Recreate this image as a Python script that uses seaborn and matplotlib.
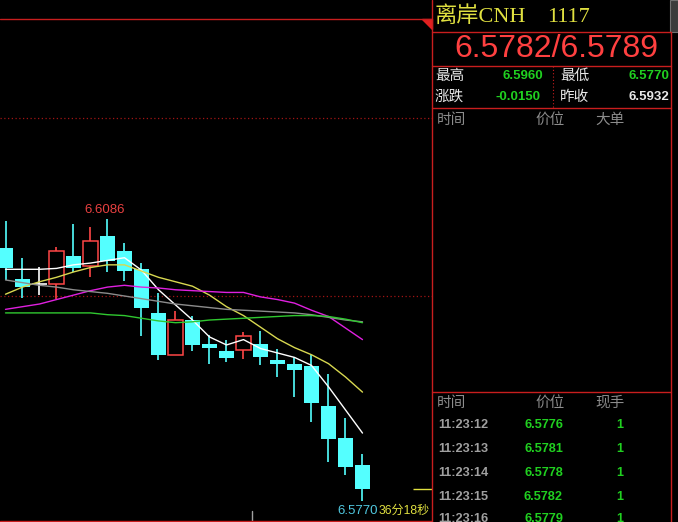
import numpy as np
import pandas as pd
import matplotlib
matplotlib.use('Agg')
import matplotlib.pyplot as plt
import seaborn as sns
from matplotlib.patches import Polygon, Rectangle

# 1-min bars of CNH
opens  = [6.6054, 6.6019, 6.6013, 6.6014, 6.6045, 6.6034, 6.6067, 6.6051, 6.6030, 6.5981, 6.5934,
          6.5973, 6.5946, 6.5938, 6.5939, 6.5946, 6.5928, 6.5924, 6.5921, 6.5876, 6.5841, 6.5810]
closes = [6.6031, 6.6010, 6.6013, 6.6051, 6.6032, 6.6062, 6.6039, 6.6028, 6.5986, 6.5934, 6.5973,
          6.5945, 6.5942, 6.5930, 6.5955, 6.5932, 6.5924, 6.5917, 6.5880, 6.5839, 6.5808, 6.5783]
highs  = [6.6084, 6.6043, 6.6033, 6.6055, 6.6081, 6.6078, 6.6086, 6.6060, 6.6037, 6.6003, 6.5983,
          6.5978, 6.5956, 6.5951, 6.5959, 6.5961, 6.5940, 6.5932, 6.5934, 6.5912, 6.5863, 6.5823]
lows   = [6.6018, 6.5998, 6.6001, 6.5997, 6.6027, 6.6021, 6.6027, 6.6017, 6.5955, 6.5928, 6.5934,
          6.5938, 6.5924, 6.5926, 6.5929, 6.5922, 6.5909, 6.5887, 6.5858, 6.5813, 6.5799, 6.5770]

# moving averages (they start before the visible bars, so read, not computed)
ma5  = [6.6030, 6.6030, 6.6030, 6.6031, 6.6035, 6.6037, 6.6040, 6.6043, 6.6029, 6.6007, 6.5990,
        6.5973, 6.5954, 6.5945, 6.5951, 6.5941, 6.5936, 6.5931, 6.5922, 6.5898, 6.5872, 6.5846]
ma10 = [6.6002, 6.6010, 6.6016, 6.6021, 6.6027, 6.6032, 6.6035, 6.6035, 6.6028, 6.6021, 6.6016,
        6.6011, 6.6001, 6.5988, 6.5978, 6.5965, 6.5952, 6.5942, 6.5934, 6.5924, 6.5909, 6.5892]
ma20 = [6.5985, 6.5988, 6.5991, 6.5996, 6.6001, 6.6006, 6.6010, 6.6012, 6.6010, 6.6009, 6.6007,
        6.6006, 6.6005, 6.6004, 6.6004, 6.5999, 6.5996, 6.5992, 6.5984, 6.5977, 6.5964, 6.5951]
ma30 = [6.6018, 6.6015, 6.6012, 6.6010, 6.6007, 6.6005, 6.6003, 6.6000, 6.5997, 6.5994, 6.5991,
        6.5989, 6.5987, 6.5985, 6.5984, 6.5983, 6.5982, 6.5981, 6.5979, 6.5976, 6.5973, 6.5971]
ma60 = [6.5981, 6.5981, 6.5981, 6.5981, 6.5981, 6.5981, 6.5979, 6.5978, 6.5975, 6.5972, 6.5970,
        6.5971, 6.5973, 6.5974, 6.5975, 6.5976, 6.5977, 6.5978, 6.5978, 6.5977, 6.5974, 6.5970]

# quote panel
title = '离岸CNH'
code = '1117'
bid_ask = '6.5782/6.5789'
day_high, day_low, change, prev_close = '6.5960', '6.5770', '-0.0150', '6.5932'
tick_times = ['11:23:12', '11:23:13', '11:23:14', '11:23:15', '11:23:16']
tick_prices = ['6.5776', '6.5781', '6.5778', '6.5782', '6.5779']
tick_vols = ['1', '1', '1', '1', '1']
countdown = '36分18秒'

RED = '#c81e1e'
UP = '#ff4646'
DOWN = '#54ffff'

sns.set_style('dark', {'axes.facecolor': 'black', 'figure.facecolor': 'black'})
plt.rcParams['font.family'] = ['Liberation Sans', 'Noto Sans CJK SC', 'DejaVu Sans']

W, H = 678, 522
fig = plt.figure(figsize=(W / 100, H / 100), dpi=100)

# kline area: pixel 0..432 wide, 19..521 tall
ax = fig.add_axes([0, 1 / H, 432 / W, 502 / H])
ax.set_xlim(-5.5 / 17, 426.5 / 17)
ax.set_ylim(6.60 - 225 / 8900, 6.60 + 277 / 8900)
ax.axis('off')

for lvl in [6.60, 6.62]:
    ax.axhline(lvl, color='#a01414', lw=0.9, ls=(0, (1, 2)), zorder=1)

for k in range(len(closes)):
    o, c, h, l = opens[k], closes[k], highs[k], lows[k]
    if c > o:
        ax.vlines(k, c, h, color=UP, lw=1.2, zorder=2)
        ax.vlines(k, l, o, color=UP, lw=1.2, zorder=2)
        ax.bar(k, c - o, bottom=o, width=0.84, facecolor='black', edgecolor=UP, lw=1.1, zorder=2)
    elif c < o:
        ax.vlines(k, l, h, color=DOWN, lw=1.2, zorder=2)
        ax.bar(k, o - c, bottom=c, width=0.86, color=DOWN, lw=0, zorder=2)
    else:
        ax.vlines(k, l, h, color='white', lw=1.2, zorder=2)
        ax.hlines(c, k - 0.43, k + 0.43, color='white', lw=1.2, zorder=2)

ma = pd.DataFrame({'k': range(len(closes)), 'MA5': ma5, 'MA10': ma10, 'MA20': ma20,
                   'MA30': ma30, 'MA60': ma60})
ma = ma.melt(id_vars='k', var_name='ma', value_name='price')
ma_colors = {'MA5': '#ffffff', 'MA10': '#d8d850', 'MA20': '#e020e0', 'MA30': '#8c8c8c', 'MA60': '#30c830'}
sns.lineplot(data=ma, x='k', y='price', hue='ma', palette=ma_colors, linewidth=1.0,
             legend=False, ax=ax, zorder=3)

# high / low labels
kh = int(np.argmax(highs))
ax.annotate(f'{highs[kh]:.4f}', (kh, highs[kh]), xytext=(-3, 9), textcoords='offset pixels',
            ha='center', va='center', color='#e84040', fontsize=9.5)
kl = int(np.argmin(lows))
ax.annotate(f'{lows[kl]:.4f}', (kl, lows[kl]), xytext=(15, -10), textcoords='offset pixels',
            ha='right', va='center', color='#50c8e0', fontsize=9.5, annotation_clip=False)
# last price marker
ax.hlines(closes[-1], 24.0, 25.1, color='#e0e040', lw=1.0, zorder=3)
ax.axvline(14.5, ymin=0, ymax=10 / 502, color='#a0a0a0', lw=1.0)

# overlay in pixel coords for panel frame and text
ov = fig.add_axes([0, 0, 1, 1])
ov.set_xlim(0, W)
ov.set_ylim(H, 0)
ov.axis('off')

lw = 1.0
ov.plot([0, 432], [19, 19], color=RED, lw=lw)
ov.plot([0, 432], [521, 521], color=RED, lw=lw)
ov.plot([432, 432], [0, H], color=RED, lw=lw)
ov.plot([671, 671], [32, H], color=RED, lw=lw)
for yy in [32, 66, 108, 392]:
    ov.plot([432, 671], [yy, yy], color=RED, lw=lw)
ov.plot([553, 553], [66, 108], color=RED, lw=0.8, ls=(0, (1, 2)))
ov.add_patch(Polygon([[422, 19], [432, 19], [432, 29]], closed=True, color='#e02020'))
ov.add_patch(Rectangle((670, 0), 8, 32, facecolor='#3c3c3c', edgecolor='#707070', lw=0.8))

ov.text(435, 17, title, color='#e0e040', fontsize=16, va='center', ha='left',
        family=['Liberation Serif', 'Noto Sans CJK SC'])
ov.text(547, 17, code, color='#e0e040', fontsize=16, va='center', ha='left',
        family=['Liberation Serif'])
ov.text(556, 49, bid_ask, color='#ff4040', fontsize=23, va='center', ha='center')

ov.text(435, 76, '最高', color='#e8e8e8', fontsize=10.5, va='center', family=['Noto Sans CJK SC'])
ov.text(543, 76, day_high, color='#20d020', fontsize=9.5, va='center', ha='right', weight='bold')
ov.text(560, 76, '最低', color='#e8e8e8', fontsize=10.5, va='center', family=['Noto Sans CJK SC'])
ov.text(669, 76, day_low, color='#20d020', fontsize=9.5, va='center', ha='right', weight='bold')
ov.text(435, 97, '涨跌', color='#e8e8e8', fontsize=10.5, va='center', family=['Noto Sans CJK SC'])
ov.text(540, 97, change, color='#20d020', fontsize=9.5, va='center', ha='right', weight='bold')
ov.text(560, 97, '昨收', color='#e8e8e8', fontsize=10.5, va='center', family=['Noto Sans CJK SC'])
ov.text(669, 97, prev_close, color='#e8e8e8', fontsize=9.5, va='center', ha='right', weight='bold')

for yy, heads in [(120, ['时间', '价位', '大单']), (403, ['时间', '价位', '现手'])]:
    for xx, s in zip([437, 535, 595], heads):
        ov.text(xx, yy, s, color='#8c8c8c', fontsize=10.5, va='center', family=['Noto Sans CJK SC'])

row_y = [425, 449, 473, 497, 519]
for yy, t, p, v in zip(row_y, tick_times, tick_prices, tick_vols):
    ov.text(438, yy, t, color='#a0a0a0', fontsize=9.2, va='center', weight='bold')
    ov.text(563, yy, p, color='#20d020', fontsize=9.2, va='center', ha='right', weight='bold')
    ov.text(623, yy, v, color='#20d020', fontsize=9.2, va='center', ha='right', weight='bold')

ov.text(379, 511, countdown, color='#e0e040', fontsize=8.7, va='center', ha='left')

fig.savefig('out.png', dpi=100, facecolor='black')
